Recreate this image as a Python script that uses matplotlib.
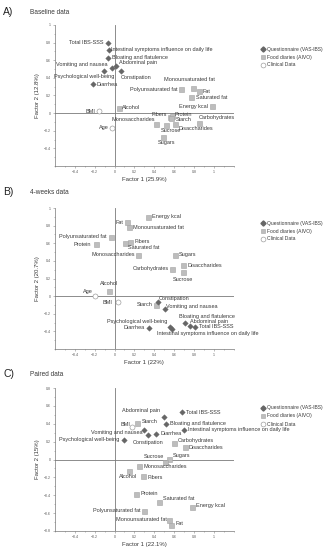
import matplotlib
matplotlib.use("Agg")
import matplotlib.pyplot as plt
from matplotlib.lines import Line2D
from matplotlib.ticker import MultipleLocator, FuncFormatter

plt.rcParams['font.family'] = ['Liberation Sans', 'DejaVu Sans']

# ---------------- DATA ----------------
# Panel A: Baseline data
A_q_names = ["Total IBS-SSS", "Intestinal symptoms influence on daily life", "Bloating and flatulence",
             "Abdominal pain", "Vomiting and nausea", "Psychological well-being", "Constipation", "Diarrhea"]
A_q_x = [-0.07, -0.06, -0.07, 0.01, -0.03, -0.11, 0.06, -0.22]
A_q_y = [0.80, 0.72, 0.63, 0.54, 0.51, 0.48, 0.48, 0.33]
A_f_names = ["Monounsaturated fat", "Polyunsaturated fat", "Fat", "Saturated fat", "Energy kcal", "Alcohol",
             "Fibers", "Protein", "Starch", "Monosaccharides", "Sucrose", "Disaccharides", "Carbohydrates", "Sugars"]
A_f_x = [0.79, 0.67, 0.85, 0.77, 0.98, 0.04, 0.56, 0.58, 0.57, 0.42, 0.52, 0.61, 0.85, 0.49]
A_f_y = [0.29, 0.27, 0.25, 0.18, 0.08, 0.06, -0.04, -0.03, -0.05, -0.125, -0.14, -0.125, -0.11, -0.27]
A_c_names = ["BMI", "Age"]
A_c_x = [-0.16, -0.03]
A_c_y = [0.02, -0.17]

# Panel B: 4-weeks data
B_q_names = ["Constipation", "Vomiting and nausea", "Bloating and flatulence", "Abdominal pain", "Total IBS-SSS",
             "Psychological well-being", "Diarrhea", "Intestinal symptoms influence on daily life"]
B_q_x = [0.44, 0.51, 0.71, 0.76, 0.81, 0.56, 0.35, 0.58]
B_q_y = [-0.07, -0.15, -0.31, -0.34, -0.35, -0.35, -0.36, -0.37]
B_f_names = ["Energy kcal", "Fat", "Monounsaturated fat", "Polyunsaturated fat", "Protein", "Fibers",
             "Saturated fat", "Monosaccharides", "Sugars", "Disaccharides", "Carbohydrates", "Sucrose",
             "Alcohol", "Starch"]
B_f_x = [0.34, 0.13, 0.15, -0.04, -0.19, 0.16, 0.11, 0.24, 0.61, 0.69, 0.58, 0.69, -0.06, 0.42]
B_f_y = [0.90, 0.84, 0.78, 0.67, 0.59, 0.61, 0.60, 0.47, 0.47, 0.35, 0.31, 0.27, 0.06, -0.10]
B_c_names = ["Age", "BMI"]
B_c_x = [-0.20, 0.03]
B_c_y = [0.0, -0.07]

# Panel C: Paired data
C_q_names = ["Total IBS-SSS", "Abdominal pain", "Bloating and flatulence", "Intestinal symptoms influence on daily life",
             "Vomiting and nausea", "Constipation", "Diarrhea", "Psychological well-being"]
C_q_x = [0.68, 0.50, 0.52, 0.70, 0.30, 0.34, 0.42, 0.10]
C_q_y = [0.53, 0.47, 0.40, 0.33, 0.33, 0.27, 0.29, 0.22]
C_f_names = ["Starch", "Carbohydrates", "Disaccharides", "Sugars", "Sucrose", "Monosaccharides", "Alcohol",
             "Fibers", "Protein", "Saturated fat", "Energy kcal", "Polyunsaturated fat", "Monounsaturated fat", "Fat"]
C_f_x = [0.23, 0.60, 0.71, 0.55, 0.51, 0.25, 0.15, 0.29, 0.22, 0.45, 0.78, 0.30, 0.55, 0.57]
C_f_y = [0.41, 0.18, 0.145, 0.01, -0.03, -0.07, -0.13, -0.19, -0.39, -0.47, -0.53, -0.58, -0.68, -0.73]
C_c_names = ["BMI"]
C_c_x = [0.18]
C_c_y = [0.36]

panel_letters = ["A)", "B)", "C)"]
panel_titles = ["Baseline data", "4-weeks data", "Paired data"]
x_labels = ["Factor 1 (25.9%)", "Factor 1 (22%)", "Factor 1 (22.1%)"]
y_labels = ["Factor 2 (12.8%)", "Factor 2 (20.7%)", "Factor 2 (15%)"]
legend_labels = ["Questionnaire (VAS-IBS)", "Food diaries (AIVO)", "Clinical Data"]

# ---------------- LABEL PLACEMENT (pixel offsets: dx, dy, ha) ----------------
A_off = {
    "Total IBS-SSS": (-4, 0, 'right'), "Intestinal symptoms influence on daily life": (2.5, 0, 'left'),
    "Bloating and flatulence": (4, 0, 'left'), "Abdominal pain": (3, 3.3, 'left'),
    "Vomiting and nausea": (-4, 4, 'right'), "Psychological well-being": (11, -5.3, 'right'),
    "Constipation": (0, -6.7, 'left'), "Diarrhea": (4, 0, 'left'),
    "Monounsaturated fat": (-4, 8, 'center'), "Polyunsaturated fat": (-3.5, 0, 'right'),
    "Fat": (3.5, 0, 'left'), "Saturated fat": (4.5, -0.7, 'left'), "Energy kcal": (-3.5, 0, 'right'),
    "Alcohol": (3.5, 0, 'left'), "Fibers": (-3, 2, 'right'), "Protein": (2, 1.4, 'left'),
    "Starch": (5, -2.3, 'left'), "Monosaccharides": (-1, 4.3, 'right'), "Sucrose": (-5, -5.3, 'left'),
    "Disaccharides": (3.6, -4, 'left'), "Carbohydrates": (0, 5.3, 'left'), "Sugars": (-5.7, -5.6, 'left'),
    "BMI": (-3.6, 0, 'right'), "Age": (-3, 1, 'right'),
}
B_off = {
    "Energy kcal": (4, 0, 'left'), "Fat": (-4, 0, 'right'), "Monounsaturated fat": (4, 0, 'left'),
    "Polyunsaturated fat": (-3.7, 0.7, 'right'), "Protein": (-4.7, 0, 'right'), "Fibers": (4, 0.6, 'left'),
    "Saturated fat": (2.3, -4.3, 'left'), "Monosaccharides": (-3.7, 0, 'right'), "Sugars": (4, 0, 'left'),
    "Disaccharides": (4, 0, 'left'), "Carbohydrates": (-3.7, 0, 'right'), "Sucrose": (0, -6.7, 'center'),
    "Alcohol": (0, 7.3, 'center'), "Age": (-2.3, 4.3, 'right'), "BMI": (-5.3, 0, 'right'),
    "Starch": (-3.4, 0, 'right'), "Constipation": (0.7, 4, 'left'), "Vomiting and nausea": (1, 3, 'left'),
    "Bloating and flatulence": (-6, 7.3, 'left'), "Abdominal pain": (0, 4.7, 'left'),
    "Total IBS-SSS": (3.7, 0, 'left'), "Psychological well-being": (-2.3, 5, 'right'),
    "Diarrhea": (-4.3, 0, 'right'), "Intestinal symptoms influence on daily life": (-15.6, -4.7, 'left'),
}
C_off = {
    "Abdominal pain": (-4, 6.7, 'right'), "Total IBS-SSS": (4.4, 0, 'left'),
    "Bloating and flatulence": (3.7, 0, 'left'), "Starch": (4, 1, 'left'), "BMI": (-2.3, 2.7, 'right'),
    "Intestinal symptoms influence on daily life": (4, 0.7, 'left'), "Vomiting and nausea": (-2, -2.4, 'right'),
    "Diarrhea": (4.3, 0, 'left'), "Psychological well-being": (-5, 0, 'right'), "Constipation": (0, -6.7, 'center'),
    "Carbohydrates": (4, 3.4, 'left'), "Disaccharides": (3.4, -1.3, 'left'), "Sucrose": (-0.7, 5.3, 'right'),
    "Sugars": (3.3, 3.3, 'left'), "Monosaccharides": (3.7, -1, 'left'), "Alcohol": (7.4, -5.3, 'right'),
    "Fibers": (4, -1.3, 'left'), "Protein": (3.6, 1.3, 'left'), "Saturated fat": (3.3, 3.4, 'left'),
    "Energy kcal": (3.7, 1, 'left'), "Polyunsaturated fat": (-3.6, 1, 'right'),
    "Monounsaturated fat": (-2.4, 0.7, 'right'), "Fat": (4, 1, 'left'),
}

# ---------------- STYLE ----------------
Q_COLOR = '#666666'
F_FACE = '#bdbdbd'
F_EDGE = '#a3a3a3'
C_EDGE = '#8a8a8a'
TXT = '#3a3a3a'
LAB_FS = 4.0

fig = plt.figure(figsize=(3.29, 5.5), dpi=100)
W, H = 329.0, 550.0
ax_rects = [(55, 25, 166), (55, 208, 349), (55, 388, 531)]
ylims = [(-0.6, 1.0), (-0.6, 1.0), (-0.8, 0.8)]
title_y = [12, 192, 374]
legend_y = [48, 222, 407]

panels = [
    (A_q_names, A_q_x, A_q_y, A_f_names, A_f_x, A_f_y, A_c_names, A_c_x, A_c_y, A_off),
    (B_q_names, B_q_x, B_q_y, B_f_names, B_f_x, B_f_y, B_c_names, B_c_x, B_c_y, B_off),
    (C_q_names, C_q_x, C_q_y, C_f_names, C_f_x, C_f_y, C_c_names, C_c_x, C_c_y, C_off),
]


def fmt(v, pos):
    if abs(v) < 1e-9:
        return '0'
    s = '%.1f' % v
    if s.endswith('.0'):
        s = s[:-2]
    return s.replace('-', '\u2212')


for i, (qn, qx, qy, fn, fx, fy, cn, cx, cy, off) in enumerate(panels):
    left, top, bottom = ax_rects[i]
    ax = fig.add_axes([left / W, 1 - bottom / H, 178.7 / W, (bottom - top) / H])
    ax.set_xlim(-0.6, 1.2)
    ax.set_ylim(*ylims[i])
    for s in ['top', 'right']:
        ax.spines[s].set_visible(False)
    for s in ['left', 'bottom']:
        ax.spines[s].set_color('#777777')
        ax.spines[s].set_linewidth(0.5)
    ax.axhline(0, color='#7a7a7a', lw=0.6, zorder=1)
    ax.axvline(0, color='#7a7a7a', lw=0.6, zorder=1)
    ax.xaxis.set_minor_locator(MultipleLocator(0.1))
    ax.yaxis.set_minor_locator(MultipleLocator(0.1))
    ax.set_xticks([-0.4, -0.2, 0, 0.2, 0.4, 0.6, 0.8, 1.0])
    if i < 2:
        ax.set_yticks([-0.4, -0.2, 0, 0.2, 0.4, 0.6, 0.8, 1.0])
    else:
        ax.set_yticks([-0.8, -0.6, -0.4, -0.2, 0, 0.2, 0.4, 0.6, 0.8])
    ax.xaxis.set_major_formatter(FuncFormatter(fmt))
    ax.yaxis.set_major_formatter(FuncFormatter(fmt))
    ax.tick_params(which='both', direction='out', colors='#888888', width=0.4, labelsize=2.5,
                   labelcolor='#555555', pad=1.2)
    ax.tick_params(which='major', length=1.6)
    ax.tick_params(which='minor', length=0.9)

    ax.set_xlabel(x_labels[i], fontsize=4.3, color=TXT, labelpad=2)
    ax.set_ylabel(y_labels[i], fontsize=4.3, color=TXT, labelpad=3)

    ax.plot(fx, fy, linestyle='none', marker='s', ms=3.6, mfc=F_FACE, mec=F_EDGE, mew=0.4, zorder=3)
    ax.plot(qx, qy, linestyle='none', marker='D', ms=2.8, mfc=Q_COLOR, mec=Q_COLOR, mew=0.3, zorder=4)
    ax.plot(cx, cy, linestyle='none', marker='o', ms=3.6, mfc='white', mec=C_EDGE, mew=0.4, zorder=4)

    for names, xs, ys in [(qn, qx, qy), (fn, fx, fy), (cn, cx, cy)]:
        for n, x, y in zip(names, xs, ys):
            dx, dy, ha = off[n]
            ax.annotate(n, (x, y), xytext=(dx, dy), textcoords='offset pixels', ha=ha, va='center',
                        fontsize=LAB_FS, color=TXT, annotation_clip=False, zorder=5)

    # panel letter and title
    fig.text(3 / W, 1 - title_y[i] / H, panel_letters[i], fontsize=7.5, color='#222222', va='center')
    fig.text(30 / W, 1 - title_y[i] / H, panel_titles[i], fontsize=4.7, color=TXT, va='center')

    # legend
    handles = [
        Line2D([], [], linestyle='none', marker='D', ms=2.6, mfc=Q_COLOR, mec=Q_COLOR),
        Line2D([], [], linestyle='none', marker='s', ms=3.5, mfc=F_FACE, mec=F_EDGE, mew=0.4),
        Line2D([], [], linestyle='none', marker='o', ms=3.5, mfc='white', mec=C_EDGE, mew=0.4),
    ]
    fig.legend(handles, legend_labels, loc='upper left',
               bbox_to_anchor=(259 / W, 1 - (legend_y[i] - 4) / H), frameon=False,
               fontsize=3.6, handlelength=0.6, handletextpad=0.45, labelspacing=0.6,
               borderpad=0, labelcolor=TXT)

fig.savefig('out.png', dpi=100)
